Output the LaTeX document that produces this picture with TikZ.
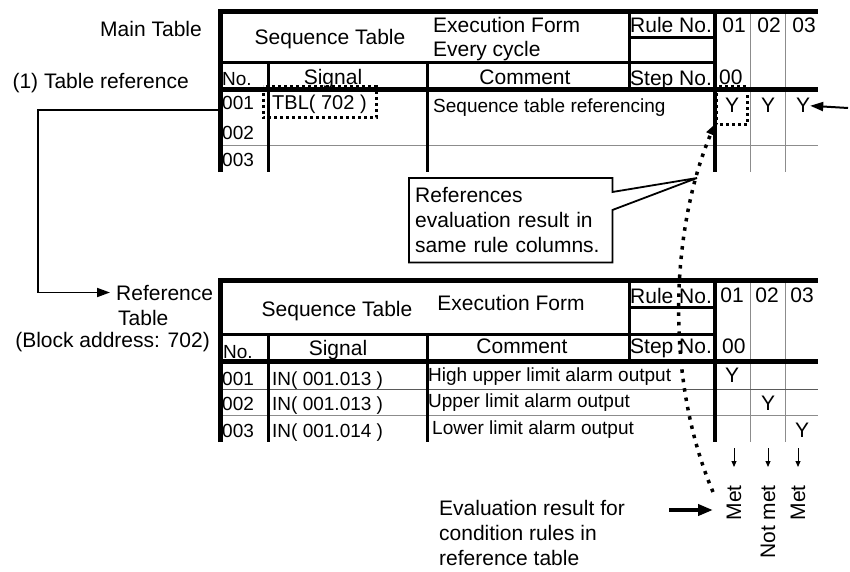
\documentclass[tikz,border=0pt]{standalone}
\usepackage{fontspec}
\setmainfont{Liberation Sans}
\usetikzlibrary{arrows.meta,positioning,calc}
\definecolor{rulegray}{HTML}{8C8C8C}
\definecolor{rowgray}{HTML}{5A5A5A}
\newcommand{\bigtxt}{\fontsize{21}{25}\selectfont}
\newcommand{\smalltxt}{\fontsize{19}{23}\selectfont}
\tikzset{
  lbl/.style={inner sep=0pt, anchor=base, font=\bigtxt},
  lblw/.style={lbl, anchor=base west},
  cmt/.style={inner sep=0pt, anchor=base west, font=\smalltxt},
  metlbl/.style={lbl, rotate=90, anchor=east},
  notebox/.style={inner xsep=6pt, inner ysep=0pt, text width=191pt, minimum height=84pt,
                  align=left, font=\bigtxt, anchor=north west},
  heavy/.style={line width=5pt},
  vheavy/.style={line width=4pt},
  medium/.style={line width=3pt},
  hair/.style={line width=1pt, draw=rulegray},
  rowline/.style={line width=1pt, draw=rowgray},
  dotbox/.style={line width=3pt, dash pattern=on 3pt off 3pt},
  dotarr/.style={-{Triangle[length=11pt,width=9pt]}, line width=3.5pt, dash pattern=on 3.5pt off 6pt},
  arr/.style={-{Triangle[length=13pt,width=9pt]}, line width=1.8pt},
  bigarr/.style={-{Triangle[length=15pt,width=11pt]}, line width=4pt},
  downarr/.style={-{Triangle[length=6pt,width=5pt]}, line width=1pt}}
\begin{document}
\begin{tikzpicture}[x=1pt,y=-1pt]
  \useasboundingbox (0,0) rectangle (850,572);
  % main table
  \draw[hair] (750,12) -- (750,172) (785,12) -- (785,172);
  \draw[hair] (220,146) -- (818,146);
  \draw[medium] (220,63) -- (715,63);
  \draw[medium] (268,63) -- (268,172);
  \draw[medium] (427,63) -- (427,172);
  \draw[medium] (629,12) -- (629,90);
  \draw[medium] (629,38) -- (715,38);
  \draw[vheavy] (715,12) -- (715,172);
  \draw[heavy] (220,172) -- (220,12) -- (818,12);
  \draw[heavy] (220,90) -- (818,90);
  \node[lbl, anchor=base east] (maintbl) at (202,36.5) {Main Table};
  \node[lbl, anchor=base east] (tblref) at (189,89) {(1) Table reference};
  \node[lbl] (seqA) at (330,45) {Sequence Table};
  \node[lblw] (execA) at (433,33) {Execution Form};
  \node[lblw] (everyA) at (433,57) {Every cycle};
  \node[lblw] (ruleA) at (630,33) {Rule No.};
  \node[lbl] (c01A) at (734,33) {01};
  \node[lbl] (c02A) at (769,33) {02};
  \node[lbl] (c03A) at (804,33) {03};
  \node[lblw, font=\smalltxt] (noA) at (222,86) {No.};
  \node[lbl] (sigA) at (333,85) {Signal};
  \node[lbl] (cmtA) at (525,85) {Comment};
  \node[lblw] (stepA) at (630,86) {Step No.};
  \node[lblw] (stepnoA) at (719,85) {00};
  \node[cmt] (r1A) at (222,110) {001};
  \node[cmt] (r2A) at (222,140) {002};
  \node[cmt] (r3A) at (222,167) {003};
  \node[cmt, font=\fontsize{20}{24}\selectfont] (tbl) at (272,110) {TBL( 702 )};
  \node[cmt] (cmt1A) at (433,113) {Sequence table referencing};
  \node[lbl] (y01A) at (732,113) {Y};
  \node[lbl] (y02A) at (768,113) {Y};
  \node[lbl] (y03A) at (803,113) {Y};
  \draw[dotbox] (263,87) rectangle (376,118);
  \draw[dotbox] (716,87) rectangle (747,125);
  % reference table
  \draw[hair] (750,280) -- (750,442) (785,280) -- (785,442);
  \draw[rowline] (220,389) -- (818,389);
  \draw[hair] (220,415) -- (818,415);
  \draw[medium] (220,334) -- (715,334);
  \draw[medium] (268,334) -- (268,442);
  \draw[medium] (427,334) -- (427,442);
  \draw[medium] (629,280) -- (629,361);
  \draw[medium] (629,307) -- (715,307);
  \draw[vheavy] (715,280) -- (715,442);
  \draw[heavy] (220,442) -- (220,280) -- (818,280);
  \draw[heavy] (220,361) -- (818,361);
  \node[lblw, inner xsep=6pt] (reflbl) at (110,300) {Reference};
  \node[lblw] (reftbl) at (118,325) {Table};
  \node[lbl, anchor=base east] (blockaddr) at (210,347) {(Block address: 702)};
  \node[lbl] (seqB) at (337,316) {Sequence Table};
  \node[lbl] (execB) at (511,310) {Execution Form};
  \node[lblw] (ruleB) at (630,303) {Rule No.};
  \node[lbl] (c01B) at (732,302) {01};
  \node[lbl] (c02B) at (767,302) {02};
  \node[lbl] (c03B) at (802,302) {03};
  \node[lblw, font=\smalltxt] (noB) at (223,358) {No.};
  \node[lbl] (sigB) at (338,355) {Signal};
  \node[lbl] (cmtB) at (522,353) {Comment};
  \node[lblw] (stepB) at (630,353) {Step No.};
  \node[lblw] (stepnoB) at (722,353) {00};
  \node[cmt] (r1B) at (222,385) {001};
  \node[cmt] (r2B) at (222,410) {002};
  \node[cmt] (r3B) at (222,437) {003};
  \node[cmt] (sig1B) at (272,385) {IN( 001.013 )};
  \node[cmt] (sig2B) at (272,410) {IN( 001.013 )};
  \node[cmt] (sig3B) at (272,437) {IN( 001.014 )};
  \node[cmt] (cmt1B) at (428,381) {High upper limit alarm output};
  \node[cmt] (cmt2B) at (428,407) {Upper limit alarm output};
  \node[cmt] (cmt3B) at (432,434) {Lower limit alarm output};
  \node[lbl] (y01B) at (732,382) {Y};
  \node[lbl] (y02B) at (768,410) {Y};
  \node[lbl] (y03B) at (802,437) {Y};
  % evaluation results
  \node[metlbl] (met1) at (734,485) {Met};
  \node[metlbl] (met2) at (768,485) {Not met};
  \node[metlbl] (met3) at (798,485) {Met};
  \draw[downarr] ($(met1.east)+(0,-37)$) -- ($(met1.east)+(0,-18)$);
  \draw[downarr] ($(met2.east)+(0,-37)$) -- ($(met2.east)+(0,-18)$);
  \draw[downarr] ($(met3.east)+(0,-37)$) -- ($(met3.east)+(0,-18)$);
  \node[lblw, anchor=north west, align=left] (evaltxt) at (439,500)
    {Evaluation result for\\condition rules in\\reference table};
  \coordinate (evaltip) at (713,510);
  \draw[bigarr] ([xshift=-44pt]evaltip) -- (evaltip);
  % callout and connectors
  \node[notebox] (note) at (409,178) {References\\evaluation result in\\same rule columns.};
  \coordinate (ctip) at (697,178);
  \draw[line width=1.8pt] (note.north east) -- (note.north west) -- (note.south west)
    -- (note.south east) -- ([yshift=-32pt]note.north east) -- (ctip)
    -- ([yshift=-14pt]note.north east) -- cycle;
  \coordinate (tref) at (220,110);
  \draw[arr] (tref) -- ++(-182,0) |- (reflbl.west);
  \coordinate (rsrc) at (848,108);
  \draw[arr, line width=2pt] (rsrc) -- (y03A.east);
  \coordinate (curvebot) at (713,492);
  \coordinate (ytip) at (715,124);
  \draw[dotarr] (curvebot) .. controls (665,380) and (670,230) .. (ytip);
\end{tikzpicture}
\end{document}
